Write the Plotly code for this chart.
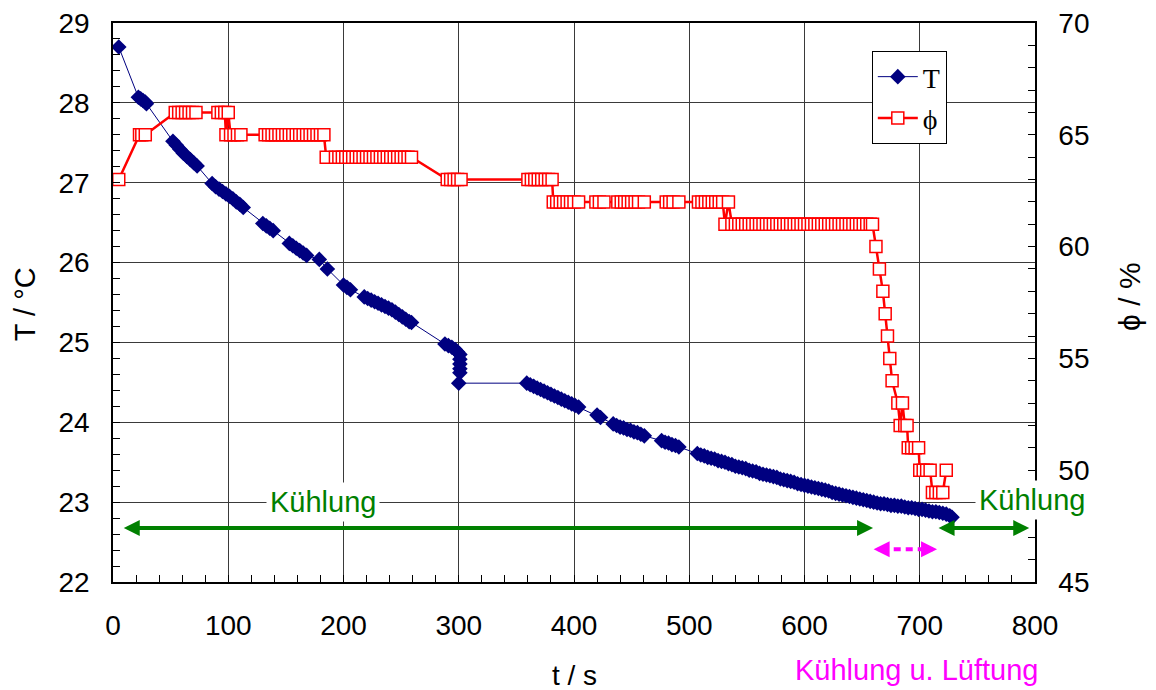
import plotly.graph_objects as go

# ---- Temperature series (t in s, T in °C) ----
t_T = [5,
       22, 24, 26, 28, 29,
       52, 55, 58, 61, 64, 67, 70, 73,
       86, 89, 92, 95, 98, 101, 104, 107, 110, 113,
       130, 133, 136, 139,
       153, 156, 159, 162, 165, 168,
       179, 186,
       200, 203, 206,
       218, 221, 224, 227, 230, 233, 236, 239, 242, 245, 248, 251, 254, 257, 259,
       288, 291, 294, 297, 299, 301, 301, 301, 301, 301, 300,
       359, 362, 365, 368, 371, 374, 377, 380, 383, 386, 389, 392, 395, 398, 401, 404,
       420, 423,
       434, 437, 440, 443, 446, 449, 452, 455, 458, 461,
       476, 479, 482, 485, 488, 491,
       507, 510, 513, 516, 519, 522, 525, 528, 531, 534, 537, 540, 543, 546, 549,
       552, 555, 558, 561, 564, 567, 570, 573, 576, 579, 582, 585, 588, 591, 594,
       597, 600, 603, 606, 609, 612, 615, 618, 621, 624, 627, 630, 633, 636, 639,
       642, 645, 648, 651, 654, 657, 660, 663, 666, 669, 672, 675, 678, 681, 684,
       687, 690, 693, 696, 699, 702, 705, 708, 711, 714, 717, 720, 723, 726, 728]
T_C = [28.70,
       28.07, 28.05, 28.03, 28.01, 27.99,
       27.52, 27.47, 27.42, 27.37, 27.33, 27.29, 27.25, 27.21,
       26.99, 26.95, 26.92, 26.89, 26.86, 26.83, 26.80, 26.76, 26.73, 26.69,
       26.49, 26.46, 26.43, 26.40,
       26.24, 26.21, 26.18, 26.15, 26.12, 26.09,
       26.04, 25.92,
       25.72, 25.69, 25.66,
       25.57, 25.55, 25.53, 25.51, 25.49, 25.47, 25.45, 25.43, 25.41, 25.38, 25.35, 25.32, 25.29, 25.26, 25.25,
       24.98, 24.96, 24.94, 24.91, 24.88, 24.85, 24.79, 24.73, 24.67, 24.62, 24.49,
       24.49, 24.47, 24.45, 24.43, 24.41, 24.39, 24.37, 24.35, 24.33, 24.31, 24.29, 24.27, 24.25, 24.23, 24.21, 24.19,
       24.09, 24.06,
       23.98, 23.96, 23.94, 23.93, 23.91, 23.90, 23.88, 23.87, 23.85, 23.83,
       23.77, 23.75, 23.74, 23.72, 23.71, 23.69,
       23.61, 23.59, 23.58, 23.56, 23.55, 23.54, 23.52, 23.51, 23.50, 23.48, 23.47, 23.45, 23.44, 23.43, 23.42,
       23.40, 23.39, 23.38, 23.36, 23.35, 23.34, 23.33, 23.32, 23.31, 23.29, 23.28, 23.27, 23.26, 23.25, 23.23,
       23.22, 23.21, 23.20, 23.19, 23.18, 23.17, 23.16, 23.15, 23.14, 23.12, 23.11, 23.10, 23.09, 23.08, 23.07,
       23.06, 23.05, 23.04, 23.03, 23.02, 23.01, 23.00, 22.99, 22.98, 22.98, 22.97, 22.96, 22.96, 22.95, 22.95,
       22.94, 22.93, 22.93, 22.92, 22.91, 22.91, 22.90, 22.89, 22.88, 22.88, 22.87, 22.86, 22.85, 22.83, 22.81]

# ---- Relative humidity series (t in s, phi in %) ----
t_phi = [5,
         23, 25, 28,
         54, 57, 60, 63, 66, 69, 72,
         91, 94, 97, 98, 100, 102, 105, 108, 111,
         132, 135, 138, 141, 144, 147, 150, 153, 156, 159, 162, 165, 168, 171, 174, 177, 180, 183,
         185, 193, 196, 199, 202, 205, 208, 211, 214, 217, 220, 223, 226, 229, 232, 235, 238, 241, 244, 247, 250, 253, 256, 259,
         290, 293, 296, 299, 302,
         360, 363, 366, 369, 372, 375, 378, 381,
         382, 385, 388, 391, 394, 397, 400, 404,
         419, 422, 426,
         438, 441, 444, 447, 450, 453, 456, 461,
         480, 483, 486, 491,
         508, 511, 514, 517, 520, 523, 526, 529, 531, 534, 537,
         540, 543, 546, 549, 552, 555, 558, 561, 564, 567, 570, 573, 576, 579, 582, 585, 588, 591, 594, 597,
         600, 603, 606, 609, 612, 615, 618, 621, 624, 627, 630, 633, 636, 639, 642, 645, 648, 651, 654, 657, 659,
         662, 665, 668, 670, 672, 674, 676, 681, 683, 685, 687, 689,
         690, 693, 696, 699, 700, 703, 706, 709, 711, 714, 717, 720, 723]
phi_pct = [63,
           65, 65, 65,
           66, 66, 66, 66, 66, 66, 66,
           66, 66, 66, 65, 66, 65, 65, 65, 65,
           65, 65, 65, 65, 65, 65, 65, 65, 65, 65, 65, 65, 65, 65, 65, 65, 65, 65,
           64, 64, 64, 64, 64, 64, 64, 64, 64, 64, 64, 64, 64, 64, 64, 64, 64, 64, 64, 64, 64, 64, 64, 64,
           63, 63, 63, 63, 63,
           63, 63, 63, 63, 63, 63, 63, 63,
           62, 62, 62, 62, 62, 62, 62, 62,
           62, 62, 62,
           62, 62, 62, 62, 62, 62, 62, 62,
           62, 62, 62, 62,
           62, 62, 62, 62, 62, 62, 62, 62, 61, 62, 61,
           61, 61, 61, 61, 61, 61, 61, 61, 61, 61, 61, 61, 61, 61, 61, 61, 61, 61, 61, 61,
           61, 61, 61, 61, 61, 61, 61, 61, 61, 61, 61, 61, 61, 61, 61, 61, 61, 61, 61, 61, 61,
           60, 59, 58, 57, 56, 55, 54, 53, 52, 53, 52, 52,
           51, 51, 51, 51, 50, 50, 50, 50, 49, 49, 49, 49, 50]

# ---- Axis ticks ----
x_ticks = [0, 100, 200, 300, 400, 500, 600, 700, 800]
yT_ticks = [22, 23, 24, 25, 26, 27, 28, 29]
yphi_ticks = [45, 50, 55, 60, 65, 70]

# ---- Phase markers (t in s) ----
cool1 = [8, 659.5]
cool2 = [715, 795]
vent = [660, 715]

FONT = "Liberation Sans, Arial, sans-serif"
SERIF = "Liberation Serif, Times New Roman, serif"
GREEN = "#008000"
MAGENTA = "#FF00FF"

fig = go.Figure()
fig.add_trace(go.Scatter(
    x=t_T, y=T_C, name="T", mode="lines+markers", legendgroup="a",
    line=dict(color="#000080", width=1),
    marker=dict(symbol="diamond", size=12, color="#000080"),
    cliponaxis=False,
))
fig.add_trace(go.Scatter(
    x=t_phi, y=phi_pct, name="ϕ", mode="lines+markers", yaxis="y2", legendgroup="b",
    line=dict(color="#FF0000", width=2.5),
    marker=dict(symbol="square", size=12, color="white",
                line=dict(color="#FF0000", width=1.5)),
    cliponaxis=False,
))

anns = []
# green double arrows
for seg in (cool1, cool2):
    anns.append(dict(x=seg[1], y=22.675, ax=seg[0], ay=22.675, xref="x", yref="y",
                     axref="x", ayref="y", text="", showarrow=True,
                     arrowhead=2, arrowside="end+start", arrowsize=0.8,
                     arrowwidth=4, arrowcolor=GREEN, startarrowhead=2,
                     startarrowsize=0.8))
# magenta dotted line with heads
fig.add_shape(type="line", x0=vent[0] + 7, x1=vent[1] - 7, y0=22.41, y1=22.41,
              xref="x", yref="y", line=dict(color=MAGENTA, width=4, dash="7px,5px"))
anns.append(dict(x=vent[0], y=22.41, ax=vent[0] + 8, ay=22.41, xref="x", yref="y",
                 axref="x", ayref="y", text="", showarrow=True, arrowhead=2,
                 arrowsize=0.8, arrowwidth=4, arrowcolor=MAGENTA))
anns.append(dict(x=vent[1], y=22.41, ax=vent[1] - 8, ay=22.41, xref="x", yref="y",
                 axref="x", ayref="y", text="", showarrow=True, arrowhead=2,
                 arrowsize=0.8, arrowwidth=4, arrowcolor=MAGENTA))
# texts
anns.append(dict(x=0.2278, y=0.1431, xref="paper", yref="paper", text="Kühlung",
                 showarrow=False, font=dict(family=FONT, size=29, color=GREEN),
                 bgcolor="white", borderpad=3, xanchor="center", yanchor="middle"))
anns.append(dict(x=0.9967, y=0.1467, xref="paper", yref="paper", text="Kühlung",
                 showarrow=False, font=dict(family=FONT, size=29, color=GREEN),
                 bgcolor="white", borderpad=3, xanchor="center", yanchor="middle"))
anns.append(dict(x=0.872, y=-0.158, xref="paper", yref="paper", text="Kühlung u. Lüftung",
                 showarrow=False, font=dict(family=FONT, size=29, color=MAGENTA),
                 xanchor="center", yanchor="middle"))
anns.append(dict(x=0.501, y=-0.1664, xref="paper", yref="paper", text="t / s",
                 showarrow=False, font=dict(family=FONT, size=28, color="black"),
                 xanchor="center", yanchor="middle"))
anns.append(dict(x=-0.0954, y=0.497, xref="paper", yref="paper", text="T / °C",
                 textangle=-90, showarrow=False,
                 font=dict(family=FONT, size=29, color="black"),
                 xanchor="center", yanchor="middle"))
anns.append(dict(x=1.103, y=0.51, xref="paper", yref="paper", text="ϕ / %",
                 textangle=-90, showarrow=False,
                 font=dict(family=FONT, size=30, color="black"),
                 xanchor="center", yanchor="middle"))

fig.update_layout(
    width=1148, height=682,
    margin=dict(l=105, r=121, t=15, b=108, autoexpand=False),
    paper_bgcolor="white", plot_bgcolor="white",
    font=dict(family=FONT, size=28, color="black"),
    showlegend=True,
    legend=dict(x=0.823, y=0.95, xanchor="left", yanchor="top",
                bgcolor="white", bordercolor="black", borderwidth=1,
                font=dict(family=SERIF, size=28, color="black"),
                itemwidth=40, tracegroupgap=2, traceorder="grouped"),
    annotations=anns,
    xaxis=dict(range=[0, 800], tickvals=x_ticks, ticktext=[str(v) for v in x_ticks],
               showgrid=True, gridcolor="#3a3a3a", gridwidth=1,
               showline=True, linecolor="black", linewidth=1.5, mirror=True,
               ticks="inside", ticklen=7, tickcolor="black",
               minor=dict(dtick=20, ticks="inside", ticklen=7, tickcolor="black", showgrid=False),
               zeroline=False, ticklabelstandoff=18, ticklabeloverflow="allow",
               automargin=False, tickfont=dict(family=FONT, size=28)),
    yaxis=dict(range=[22, 29], tickvals=yT_ticks, ticktext=[str(v) for v in yT_ticks],
               showgrid=True, gridcolor="#3a3a3a", gridwidth=1,
               showline=True, linecolor="black", linewidth=1.5,
               ticks="inside", ticklen=7, tickcolor="black",
               minor=dict(dtick=0.2, ticks="inside", ticklen=7, tickcolor="black", showgrid=False),
               zeroline=False, ticklabelstandoff=16, ticklabeloverflow="allow",
               automargin=False, tickfont=dict(family=FONT, size=28)),
    yaxis2=dict(range=[45, 70], tickvals=yphi_ticks, ticktext=[str(v) for v in yphi_ticks],
                overlaying="y", side="right", showgrid=False,
                showline=True, linecolor="black", linewidth=1.5,
                ticks="inside", ticklen=7, tickcolor="black",
                minor=dict(dtick=1, ticks="inside", ticklen=7, tickcolor="black", showgrid=False),
                zeroline=False, ticklabelstandoff=16, ticklabeloverflow="allow",
                automargin=False, tickfont=dict(family=FONT, size=28)),
)

fig.write_html("out.html")
